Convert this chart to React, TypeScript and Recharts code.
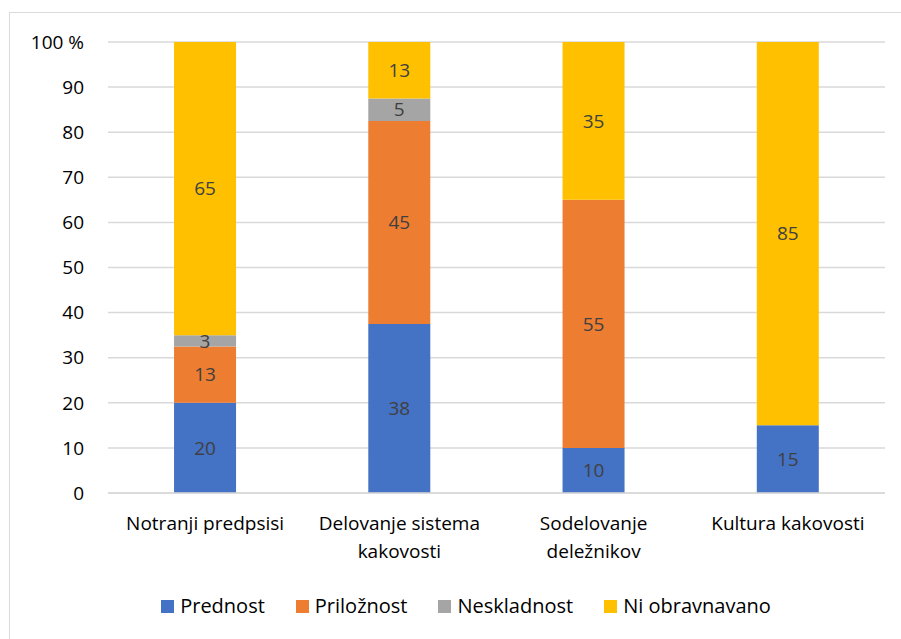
import React from 'react';
import { BarChart, Bar, XAxis, YAxis, CartesianGrid, Legend, LabelList } from 'recharts';

const categories = ['Notranji predpsisi', 'Delovanje sistema\nkakovosti', 'Sodelovanje\ndeležnikov', 'Kultura kakovosti'];
const prednost = [20, 37.5, 10, 15];
const priloznost = [12.5, 45, 55, 0];
const neskladnost = [2.5, 5, 0, 0];
const niObravnavano = [65, 12.5, 35, 85];
const yTicks = [0, 10, 20, 30, 40, 50, 60, 70, 80, 90, 100];

const seriesNames = ['Prednost', 'Priložnost', 'Neskladnost', 'Ni obravnavano'];
const seriesKeys = ['prednost', 'priloznost', 'neskladnost', 'ni'];
const seriesColors = ['#4472c4', '#ed7d31', '#a5a5a5', '#ffc000'];

const data = categories.map((c, i) => ({
  name: c,
  prednost: prednost[i],
  priloznost: priloznost[i],
  neskladnost: neskladnost[i],
  ni: niObravnavano[i],
}));

const FONT = '"Open Sans", sans-serif';
const FS = 19;

const fmtLabel = (v: any) => (v && v > 0 ? String(Math.round(v)) : '');

const CatTick = (props: any) => {
  const { x, y, payload } = props;
  const lines = String(payload.value).split('\n');
  return (
    <g transform={`translate(${x},${y})`}>
      {lines.map((l, i) => (
        <text key={i} x={0} y={29 + i * 28} textAnchor="middle" fill="#000" fontSize={FS} fontFamily={FONT}>
          {l}
        </text>
      ))}
    </g>
  );
};

const LegendContent = () => (
  <div
    style={{
      display: 'flex',
      justifyContent: 'center',
      paddingLeft: 31,
      fontFamily: FONT,
      fontSize: 20,
      color: '#000',
      lineHeight: '26px',
    }}
  >
    {seriesNames.map((n, i) => (
      <div key={n} style={{ display: 'flex', alignItems: 'center', marginRight: i < seriesNames.length - 1 ? 31 : 0 }}>
        <span style={{ display: 'inline-block', width: 13, height: 13, background: seriesColors[i], marginRight: 6 }} />
        <span style={{ whiteSpace: 'nowrap' }}>{n}</span>
      </div>
    ))}
  </div>
);

const labelStyle = { fill: '#404040', fontSize: FS, fontFamily: FONT };

export default function App() {
  return (
    <div style={{ position: 'absolute', left: 0, top: 0, width: 901, height: 639, background: '#fff' }}>
      <svg width={901} height={639} style={{ position: 'absolute', left: 0, top: 0 }}>
        <rect x={9.5} y={12.5} width={1000} height={1000} fill="#fff" stroke="#d9d9d9" strokeWidth={1} />
      </svg>
      <div style={{ position: 'absolute', left: 0, top: 0 }}>
        <BarChart
          width={901}
          height={639}
          data={data}
          margin={{ top: 42, right: 16, bottom: 90, left: 20 }}
          barCategoryGap="34%"
        >
          <CartesianGrid vertical={false} stroke="#d9d9d9" strokeWidth={1.5} />
          <XAxis
            dataKey="name"
            height={30}
            axisLine={{ stroke: '#d9d9d9', strokeWidth: 1.5 }}
            tickLine={false}
            tick={<CatTick />}
            interval={0}
          />
          <YAxis
            width={88}
            domain={[0, 100]}
            ticks={yTicks}
            axisLine={false}
            tickLine={false}
            tickFormatter={(v: number) => (v === 100 ? '100 %' : String(v))}
            tick={{ fill: '#000', fontSize: FS, fontFamily: FONT }}
            tickMargin={18}
          />
          <Legend
            verticalAlign="bottom"
            align="center"
            height={0}
            content={<LegendContent />}
            wrapperStyle={{ left: 0, width: 901, bottom: 'auto', top: 593 }}
          />
          {seriesKeys.map((k, i) => (
            <Bar key={k} dataKey={k} name={seriesNames[i]} stackId="a" fill={seriesColors[i]} isAnimationActive={false}>
              <LabelList dataKey={k} position="center" formatter={fmtLabel} style={labelStyle} />
            </Bar>
          ))}
        </BarChart>
      </div>
    </div>
  );
}
